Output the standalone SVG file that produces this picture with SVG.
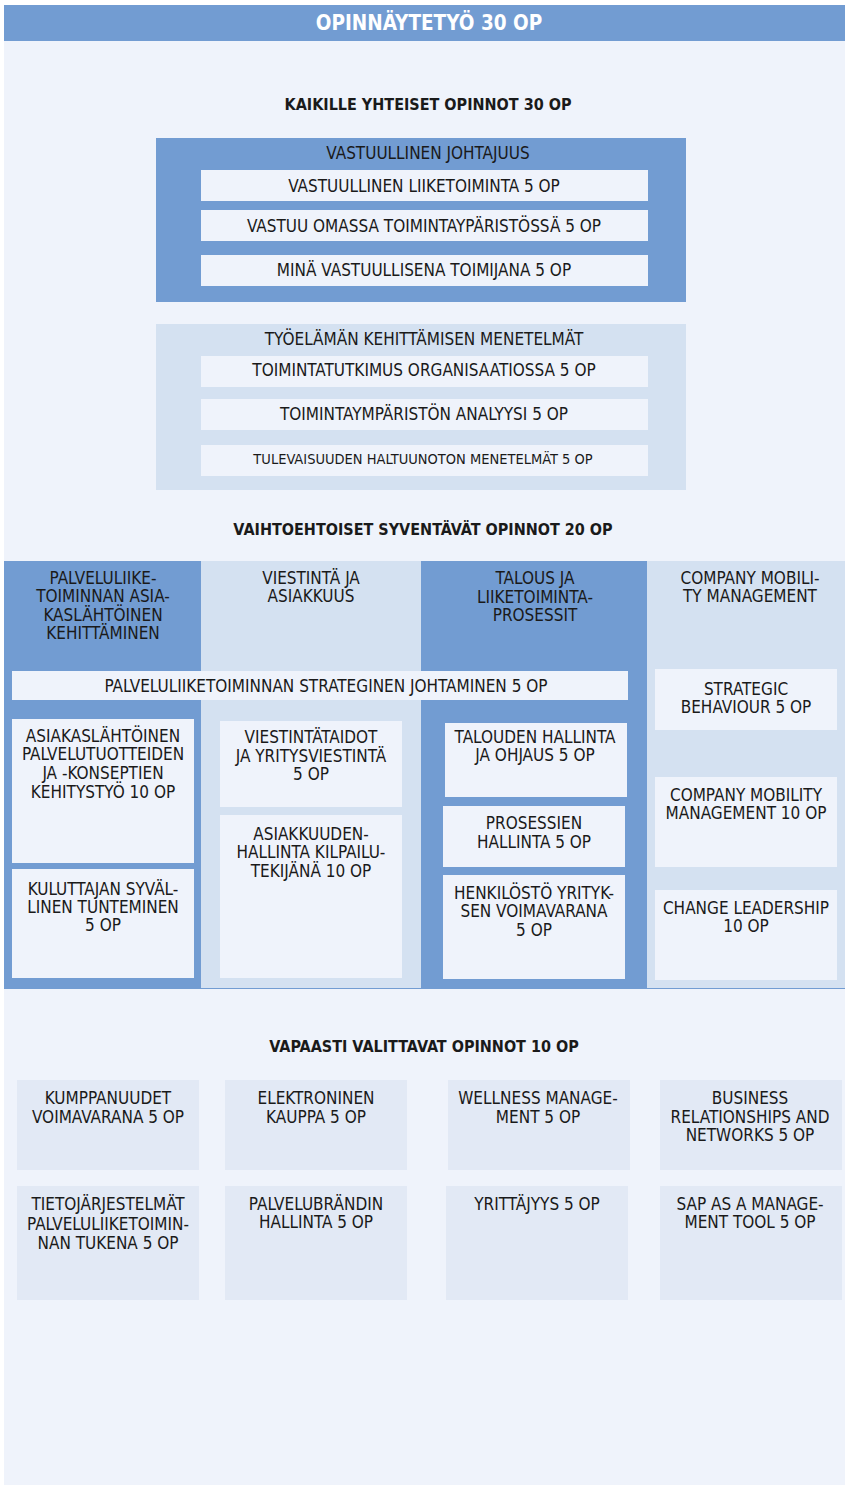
<svg xmlns="http://www.w3.org/2000/svg" width="845" height="1485" viewBox="0 0 845 1485">
<style>
.bg{fill:#eff3fb}
.blue{fill:#729cd2}
.light{fill:#d4e1f1}
.inner{fill:#eff3fb}
.pale{fill:#e2e9f5}
text{font-family:"DejaVu Sans Condensed","DejaVu Sans","Liberation Sans",sans-serif;fill:#1a1a1a;text-anchor:middle;font-size:17px}
.h{font-weight:bold;font-size:16px}
.top{font-weight:bold;font-size:20.5px;fill:#ffffff}
.sm{font-size:14.5px}
</style>
<rect x="0" y="0" width="845" height="1485" fill="#ffffff"/>
<rect class="bg" x="4" y="5" width="841" height="1480"/>
<g id="header">
<rect class="blue" x="4" y="5" width="841" height="36"/>
<text class="top" x="429" y="30">OPINNÄYTETYÖ 30 OP</text>
</g>
<g id="section1-title"><text class="h" x="428" y="110">KAIKILLE YHTEISET OPINNOT 30 OP</text></g>
<g id="vastuullinen-johtajuus">
<rect class="blue" x="156" y="138" width="530" height="164"/>
<text x="428" y="159">VASTUULLINEN JOHTAJUUS</text>
<rect class="inner" x="201" y="170" width="447" height="31"/>
<text x="424" y="192">VASTUULLINEN LIIKETOIMINTA 5 OP</text>
<rect class="inner" x="201" y="210" width="447" height="31"/>
<text x="424" y="232">VASTUU OMASSA TOIMINTAYPÄRISTÖSSÄ 5 OP</text>
<rect class="inner" x="201" y="255" width="447" height="31"/>
<text x="424" y="276">MINÄ VASTUULLISENA TOIMIJANA 5 OP</text>
</g>
<g id="tyoelaman-menetelmat">
<rect class="light" x="156" y="324" width="530" height="166"/>
<text x="424" y="345">TYÖELÄMÄN KEHITTÄMISEN MENETELMÄT</text>
<rect class="inner" x="201" y="356" width="447" height="31"/>
<text x="424" y="376">TOIMINTATUTKIMUS ORGANISAATIOSSA 5 OP</text>
<rect class="inner" x="201" y="399" width="447" height="31"/>
<text x="424" y="420">TOIMINTAYMPÄRISTÖN ANALYYSI 5 OP</text>
<rect class="inner" x="201" y="445" width="447" height="31"/>
<text class="sm" x="423" y="464">TULEVAISUUDEN HALTUUNOTON MENETELMÄT 5 OP</text>
</g>
<g id="section2-title"><text class="h" x="423" y="535">VAIHTOEHTOISET SYVENTÄVÄT OPINNOT 20 OP</text></g>
<g id="columns">
<rect class="blue" x="4" y="561" width="197" height="427"/>
<rect class="light" x="201" y="561" width="220" height="427"/>
<rect class="blue" x="421" y="561" width="226" height="427"/>
<rect class="light" x="647" y="561" width="198" height="427"/>
<line x1="4" y1="988.5" x2="845" y2="988.5" stroke="#729cd2" stroke-width="1"/>
</g>
<g id="col1-header">
<text x="103" y="584">PALVELULIIKE-</text>
<text x="103" y="602">TOIMINNAN ASIA-</text>
<text x="103" y="621">KASLÄHTÖINEN</text>
<text x="103" y="639">KEHITTÄMINEN</text>
</g>
<g id="col2-header">
<text x="311" y="584">VIESTINTÄ JA</text>
<text x="311" y="602">ASIAKKUUS</text>
</g>
<g id="col3-header">
<text x="535" y="584">TALOUS JA</text>
<text x="535" y="603">LIIKETOIMINTA-</text>
<text x="535" y="621">PROSESSIT</text>
</g>
<g id="col4-header">
<text x="750" y="584">COMPANY MOBILI-</text>
<text x="750" y="602">TY MANAGEMENT</text>
</g>
<g id="strateginen-johtaminen">
<rect class="inner" x="12" y="671" width="616" height="29"/>
<text x="326" y="692">PALVELULIIKETOIMINNAN STRATEGINEN JOHTAMINEN 5 OP</text>
</g>
<g id="asiakaslahtoinen">
<rect class="inner" x="12" y="719" width="182" height="144"/>
<text x="103" y="742">ASIAKASLÄHTÖINEN</text>
<text x="103" y="760">PALVELUTUOTTEIDEN</text>
<text x="103" y="779">JA -KONSEPTIEN</text>
<text x="103" y="798">KEHITYSTYÖ 10 OP</text>
</g>
<g id="kuluttajan">
<rect class="inner" x="12" y="869" width="182" height="109"/>
<text x="103" y="895">KULUTTAJAN SYVÄL-</text>
<text x="103" y="913">LINEN TUNTEMINEN</text>
<text x="103" y="931">5 OP</text>
</g>
<g id="viestintataidot">
<rect class="inner" x="220" y="721" width="182" height="86"/>
<text x="311" y="743">VIESTINTÄTAIDOT</text>
<text x="311" y="762">JA YRITYSVIESTINTÄ</text>
<text x="311" y="780">5 OP</text>
</g>
<g id="asiakkuudenhallinta">
<rect class="inner" x="220" y="815" width="182" height="163"/>
<text x="311" y="840">ASIAKKUUDEN-</text>
<text x="311" y="858">HALLINTA KILPAILU-</text>
<text x="311" y="877">TEKIJÄNÄ 10 OP</text>
</g>
<g id="talouden-hallinta">
<rect class="inner" x="445" y="723" width="182" height="74"/>
<text x="535" y="743">TALOUDEN HALLINTA</text>
<text x="535" y="761">JA OHJAUS 5 OP</text>
</g>
<g id="prosessien-hallinta">
<rect class="inner" x="443" y="806" width="182" height="61"/>
<text x="534" y="829">PROSESSIEN</text>
<text x="534" y="848">HALLINTA 5 OP</text>
</g>
<g id="henkilosto">
<rect class="inner" x="443" y="875" width="182" height="104"/>
<text x="534" y="899">HENKILÖSTÖ YRITYK-</text>
<text x="534" y="917">SEN VOIMAVARANA</text>
<text x="534" y="936">5 OP</text>
</g>
<g id="strategic-behaviour">
<rect class="inner" x="655" y="669" width="182" height="61"/>
<text x="746" y="695">STRATEGIC</text>
<text x="746" y="713">BEHAVIOUR 5 OP</text>
</g>
<g id="company-mobility">
<rect class="inner" x="655" y="777" width="182" height="90"/>
<text x="746" y="801">COMPANY MOBILITY</text>
<text x="746" y="819">MANAGEMENT 10 OP</text>
</g>
<g id="change-leadership">
<rect class="inner" x="655" y="890" width="182" height="90"/>
<text x="746" y="914">CHANGE LEADERSHIP</text>
<text x="746" y="932">10 OP</text>
</g>
<g id="section3-title"><text class="h" x="424" y="1052">VAPAASTI VALITTAVAT OPINNOT 10 OP</text></g>
<g id="kumppanuudet">
<rect class="pale" x="17" y="1080" width="182" height="90"/>
<text x="108" y="1104">KUMPPANUUDET</text>
<text x="108" y="1123">VOIMAVARANA 5 OP</text>
</g>
<g id="elektroninen">
<rect class="pale" x="225" y="1080" width="182" height="90"/>
<text x="316" y="1104">ELEKTRONINEN</text>
<text x="316" y="1123">KAUPPA 5 OP</text>
</g>
<g id="wellness">
<rect class="pale" x="448" y="1080" width="182" height="90"/>
<text x="538" y="1104">WELLNESS MANAGE-</text>
<text x="538" y="1123">MENT 5 OP</text>
</g>
<g id="business-relationships">
<rect class="pale" x="660" y="1080" width="182" height="90"/>
<text x="750" y="1104">BUSINESS</text>
<text x="750" y="1123">RELATIONSHIPS AND</text>
<text x="750" y="1141">NETWORKS 5 OP</text>
</g>
<g id="tietojarjestelmat">
<rect class="pale" x="17" y="1186" width="182" height="114"/>
<text x="108" y="1210">TIETOJÄRJESTELMÄT</text>
<text x="108" y="1230">PALVELULIIKETOIMIN-</text>
<text x="108" y="1249">NAN TUKENA 5 OP</text>
</g>
<g id="palvelubrandin">
<rect class="pale" x="225" y="1186" width="182" height="114"/>
<text x="316" y="1210">PALVELUBRÄNDIN</text>
<text x="316" y="1228">HALLINTA 5 OP</text>
</g>
<g id="yrittajyys">
<rect class="pale" x="446" y="1186" width="182" height="114"/>
<text x="537" y="1210">YRITTÄJYYS 5 OP</text>
</g>
<g id="sap">
<rect class="pale" x="660" y="1186" width="182" height="114"/>
<text x="750" y="1210">SAP AS A MANAGE-</text>
<text x="750" y="1228">MENT TOOL 5 OP</text>
</g>
<g id="connectors"></g>
</svg>
